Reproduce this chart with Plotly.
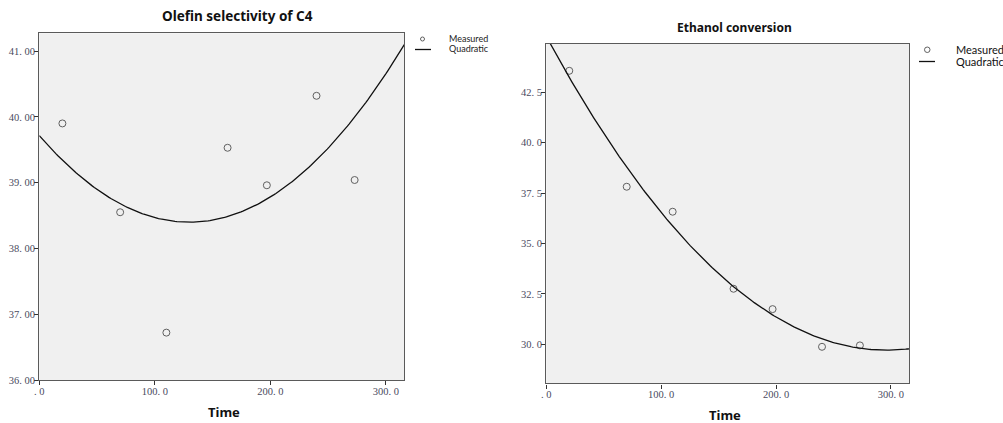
import numpy as np
import plotly.graph_objects as go

# Data
time = [20, 70, 110, 163, 197, 240, 273]
olefin_c4 = [39.90, 38.55, 36.72, 39.53, 38.96, 40.32, 39.04]
ethanol_conv = [43.57, 37.82, 36.58, 32.76, 31.75, 29.88, 29.95]

x_ticks = [0, 100, 200, 300]
x_tick_labels = [". 0", "100. 0", "200. 0", "300. 0"]
y1_ticks = [36, 37, 38, 39, 40, 41]
y1_tick_labels = ["36. 00", "37. 00", "38. 00", "39. 00", "40. 00", "41. 00"]
y2_ticks = [30, 32.5, 35, 37.5, 40, 42.5]
y2_tick_labels = ["30. 0", "32. 5", "35. 0", "37. 5", "40. 0", "42. 5"]
legend_labels = ["Measured", "Quadratic"]

# Quadratic fits (curve estimation from the measured points)
xs = np.linspace(0, 316, 200)
fit1 = np.polyval(np.polyfit(time, olefin_c4, 2), xs)
fit2 = np.polyval(np.polyfit(time, ethanol_conv, 2), xs)

W, H = 1003, 423
def px(x):
    return x / W
def py(y):
    return 1 - y / H

fig = go.Figure()

marker = dict(symbol="circle-open", size=7, color="#606060", line=dict(width=1, color="#606060"))
line = dict(color="#111111", width=1.3)

fig.add_trace(go.Scatter(x=time, y=olefin_c4, mode="markers", name=legend_labels[0],
                         marker=marker, xaxis="x", yaxis="y"))
fig.add_trace(go.Scatter(x=xs, y=fit1, mode="lines", name=legend_labels[1],
                         line=line, xaxis="x", yaxis="y"))
fig.add_trace(go.Scatter(x=time, y=ethanol_conv, mode="markers", name=legend_labels[0],
                         marker=marker, xaxis="x2", yaxis="y2"))
fig.add_trace(go.Scatter(x=xs, y=fit2, mode="lines", name=legend_labels[1],
                         line=line, xaxis="x2", yaxis="y2"))

tickfont = dict(family="Liberation Serif, DejaVu Serif, serif", size=10.5, color="#4a4a60")
axis_common = dict(showline=True, linecolor="#5a5a5a", linewidth=1.4, mirror=True,
                   showgrid=False, zeroline=False, ticks="outside", ticklen=4,
                   tickcolor="#333333", tickfont=tickfont, automargin=False,
                   ticklabelstandoff=-3)

shapes = [
    # left legend symbols
    dict(type="circle", xref="paper", yref="paper", x0=px(420.5), x1=px(424.5),
         y0=py(41), y1=py(37), line=dict(color="#606060", width=1)),
    dict(type="line", xref="paper", yref="paper", x0=px(415), x1=px(431),
         y0=py(49.5), y1=py(49.5), line=dict(color="#111111", width=1.3)),
    # right legend symbols
    dict(type="circle", xref="paper", yref="paper", x0=px(924.5), x1=px(930),
         y0=py(52.5), y1=py(47), line=dict(color="#606060", width=1)),
    dict(type="line", xref="paper", yref="paper", x0=px(919), x1=px(935),
         y0=py(61.5), y1=py(61.5), line=dict(color="#111111", width=1.3)),
]

ann_font_l = dict(family="Lato, Noto Sans, sans-serif", size=9, color="#222222")
ann_font_r = dict(family="Lato, Noto Sans, sans-serif", size=11, color="#111111")
annotations = [
    dict(text="<b>Olefin selectivity of C4</b>", x=px(237), y=py(16),
         font=dict(size=13.5)),
    dict(text="<b>Ethanol conversion</b>", x=px(734), y=py(28),
         font=dict(size=12)),
    dict(text="<b>Time</b>", x=px(224), y=py(412), font=dict(size=13)),
    dict(text="<b>Time</b>", x=px(725), y=py(415), font=dict(size=13)),
    dict(text=legend_labels[0], x=px(446.5), y=py(38), xanchor="left", font=ann_font_l),
    dict(text=legend_labels[1], x=px(446.5), y=py(48.5), xanchor="left", font=ann_font_l),
    dict(text=legend_labels[0], x=px(953.5), y=py(49.5), xanchor="left", font=ann_font_r),
    dict(text=legend_labels[1], x=px(953.5), y=py(62), xanchor="left", font=ann_font_r),
]
for a in annotations:
    a.setdefault("xref", "paper")
    a.setdefault("yref", "paper")
    a.setdefault("showarrow", False)
    a.setdefault("xanchor", "center")
    a.setdefault("yanchor", "middle")

fig.update_layout(
    width=W, height=H,
    margin=dict(l=0, r=0, t=0, b=0, autoexpand=False),
    paper_bgcolor="white",
    plot_bgcolor="#f0f0f0",
    showlegend=False,
    font=dict(family="Noto Sans, Arial, sans-serif", color="#111111"),
    xaxis=dict(domain=[px(39.3), px(404.3)], range=[0, 316], tickvals=x_ticks,
               ticktext=x_tick_labels, anchor="y", **axis_common),
    yaxis=dict(domain=[py(380), py(33.3)], range=[36, 41.27], tickvals=y1_ticks,
               ticktext=y1_tick_labels, anchor="x", **axis_common),
    xaxis2=dict(domain=[px(546.3), px(909.3)], range=[0, 316], tickvals=x_ticks,
                ticktext=x_tick_labels, anchor="y2", **axis_common),
    yaxis2=dict(domain=[py(383.3), py(44)], range=[28.07, 44.9], tickvals=y2_ticks,
                ticktext=y2_tick_labels, anchor="x2", **axis_common),
    shapes=shapes,
    annotations=annotations,
)

fig.write_html(
    "out.html",
    config={"displayModeBar": False},
    post_script="document.body.style.margin='0';document.body.style.padding='0';"
                "document.body.style.overflow='hidden';",
)
